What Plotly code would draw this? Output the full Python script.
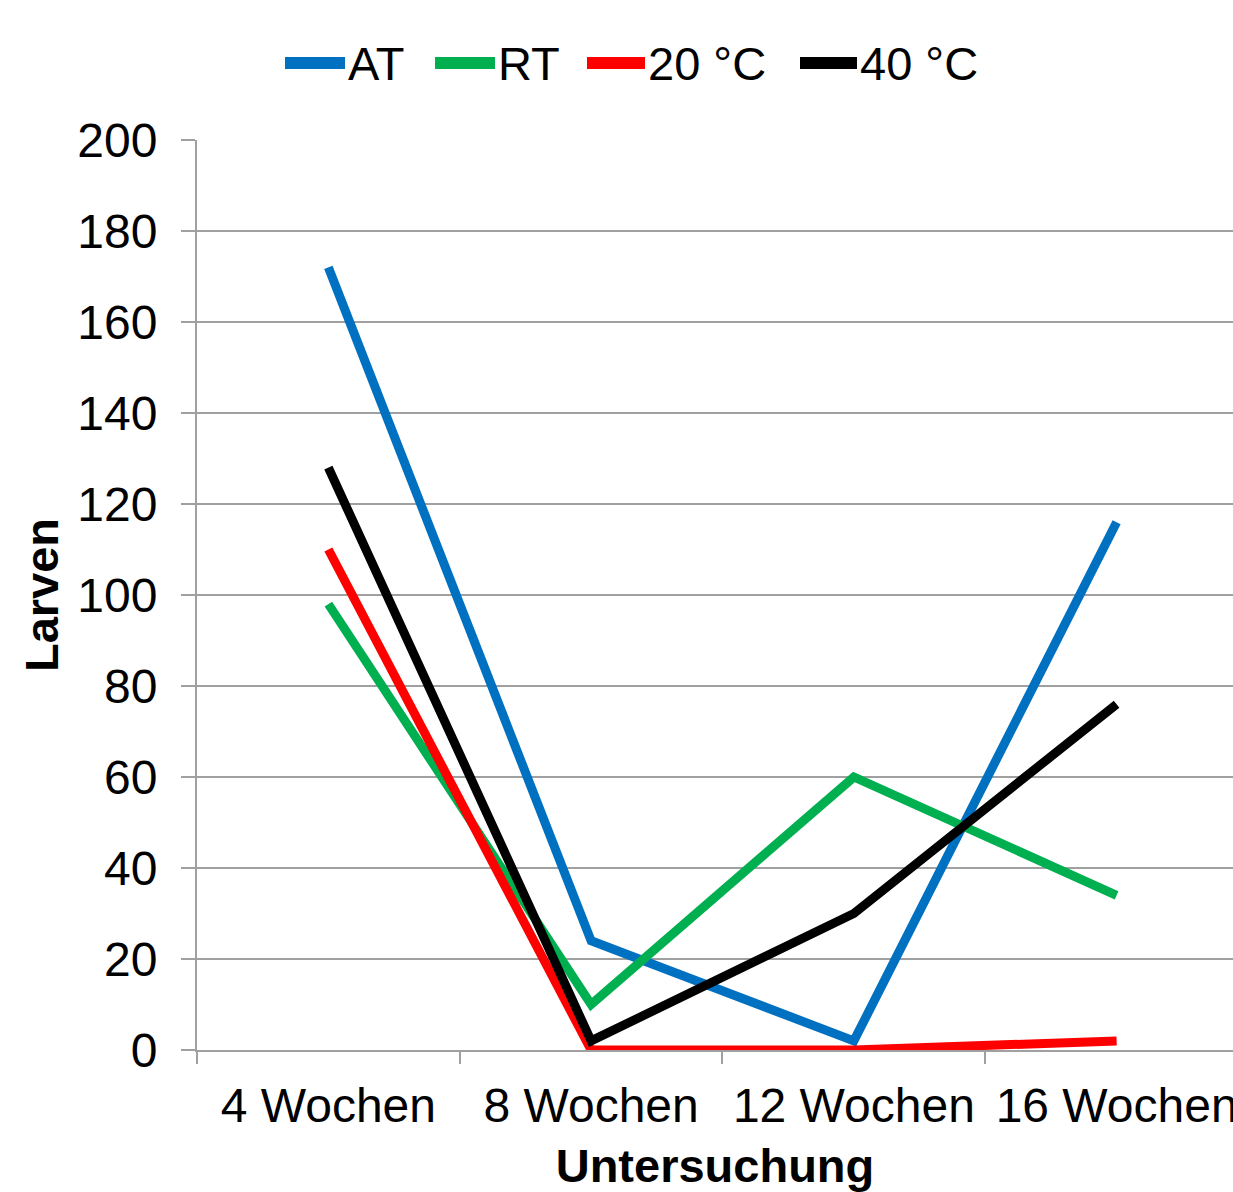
import plotly.graph_objects as go

categories = ["4 Wochen", "8 Wochen", "12 Wochen", "16 Wochen"]
at_values = [172, 24, 2, 116]
rt_values = [98, 10, 60, 34]
t20_values = [110, 0, 0, 2]
t40_values = [128, 2, 30, 76]
series_names = ["AT", "RT", "20 °C", "40 °C"]
series_colors = ["#0070C0", "#00B050", "#FF0000", "#000000"]
y_ticks = [0, 20, 40, 60, 80, 100, 120, 140, 160, 180, 200]

FONT = "Liberation Sans, Arial, sans-serif"
W, H = 1233, 1192
L, T, B = 197, 140, 142
PW = W - L
PH = H - T - B

fig = go.Figure()
for name, vals, col in zip(series_names, [at_values, rt_values, t20_values, t40_values], series_colors):
    fig.add_trace(go.Scatter(
        x=categories, y=vals, name=name, mode="lines",
        line=dict(color=col, width=9), showlegend=False,
    ))

# custom legend (long line symbols like the reference)
leg_line_x = [(285, 345), (435, 495), (587, 645), (800, 857)]
leg_y = (H - B - 63) / PH
for (x0, x1), name, col in zip(leg_line_x, series_names, series_colors):
    fig.add_shape(type="line", xref="paper", yref="paper",
                  x0=(x0 - L) / PW, x1=(x1 - L) / PW, y0=leg_y, y1=leg_y,
                  line=dict(color=col, width=12))
    fig.add_annotation(xref="paper", yref="paper", x=(x1 + 1 - L) / PW, y=leg_y,
                       xanchor="left", yanchor="middle", text=name, showarrow=False,
                       font=dict(size=47, family=FONT, color="black"))

fig.update_layout(
    width=W, height=H,
    paper_bgcolor="white", plot_bgcolor="white",
    margin=dict(l=L, r=0, t=T, b=B),
    font=dict(family=FONT, size=48, color="black"),
    showlegend=False,
    xaxis=dict(
        type="category", range=[-0.5, 3.443], automargin=False,
        showline=True, linecolor="#a0a0a0", linewidth=2,
        ticks="outside", tickson="boundaries", ticklen=12, tickcolor="#a0a0a0", tickwidth=2,
        ticklabelstandoff=12,
        showgrid=False,
        tickfont=dict(size=48),
        title=dict(text="<b>Untersuchung</b>", font=dict(size=47), standoff=22),
    ),
    yaxis=dict(
        range=[0, 200], tickvals=y_ticks, automargin=False,
        showline=True, linecolor="#a0a0a0", linewidth=2,
        ticks="outside", ticklen=14, tickcolor="#a0a0a0", tickwidth=2,
        ticklabelstandoff=14,
        showgrid=True, gridcolor="#a0a0a0", gridwidth=2,
        zeroline=False,
        tickfont=dict(size=48),
        title=dict(text="<b>Larven</b>", font=dict(size=47), standoff=4),
    ),
)

fig.write_html("out.html", config={"displayModeBar": False},
               post_script="document.body.style.margin='0';document.body.style.overflow='hidden';")
